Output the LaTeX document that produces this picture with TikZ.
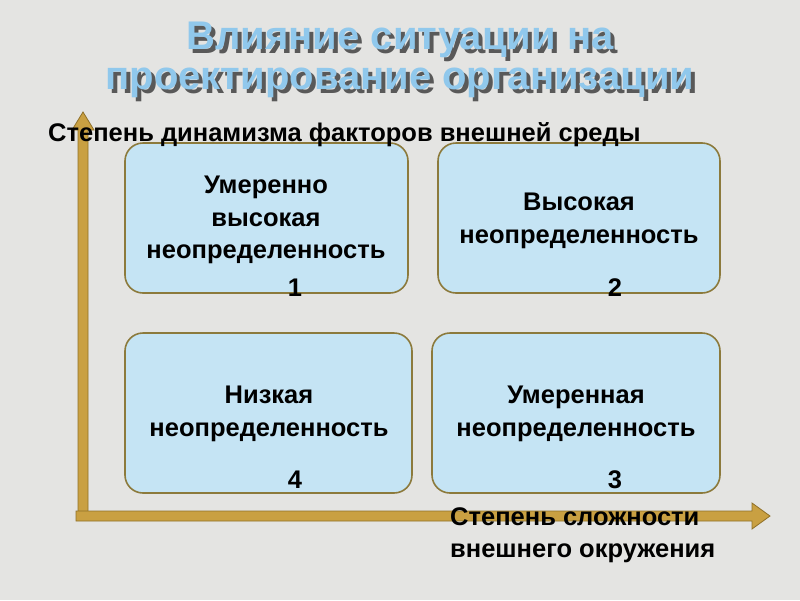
\documentclass[tikz,border=0pt]{standalone}
\usepackage{fontspec}
\setmainfont{Liberation Sans}
\begin{document}
\begin{tikzpicture}[x=1pt,y=-1pt,
  box/.style={draw=olivebd,line width=1.6pt,fill=boxfill,rounded corners=18pt},
  txt/.style={font=\bfseries\fontsize{25.5}{32.5}\selectfont,align=center,text=black,inner sep=0pt},
  ttl/.style={font=\bfseries\fontsize{40}{40}\selectfont,inner sep=0pt}]
\definecolor{bg}{HTML}{E4E4E2}
\definecolor{boxfill}{HTML}{C5E4F4}
\definecolor{olivebd}{HTML}{8C7A3C}
\definecolor{gold}{HTML}{C9A042}
\definecolor{golddk}{HTML}{8F7028}
\definecolor{ttlblue}{HTML}{90C8EC}
\fill[bg] (0,0) rectangle (800,600);
\useasboundingbox (0,0) rectangle (800,600);
% title
\node[ttl,text=gray!70!black] (sh1) at (404,44) {Влияние ситуации на};
\node[ttl,text=ttlblue] (tt1) at (400,40) {Влияние ситуации на};
\node[ttl,text=gray!70!black] (sh2) at (404,87) {проектирование организации};
\node[ttl,text=ttlblue] (tt2) at (400,83) {проектирование организации};
% axes
\draw[golddk,fill=gold,line width=0.8pt] (78,520) -- (78,130) -- (72,130) -- (83,112) -- (94,130) -- (88,130) -- (88,520) -- cycle;
\draw[golddk,fill=gold,line width=0.8pt] (76,511) -- (752,511) -- (752,503) -- (770,516) -- (752,529) -- (752,521) -- (76,521) -- cycle;
% boxes
\node[box,minimum width=283pt,minimum height=150pt] (b1) at (266.5,218) {};
\node[box,minimum width=282pt,minimum height=150pt] (b2) at (579,218) {};
\node[box,minimum width=287pt,minimum height=160pt] (b4) at (268.5,413) {};
\node[box,minimum width=288pt,minimum height=160pt] (b3) at (576,413) {};
\node[txt] (t1) at (266,220) {Умеренно\\высокая\\неопределенность};
\node[txt] (t2) at (579,221) {Высокая\\неопределенность};
\node[txt] (t4) at (269,414) {Низкая\\неопределенность};
\node[txt] (t3) at (576,414) {Умеренная\\неопределенность};
\node[txt] (n1) at (295,288) {1};
\node[txt] (n2) at (615,288) {2};
\node[txt] (n4) at (295,480) {4};
\node[txt] (n3) at (615,480) {3};
\node[txt,anchor=west] (ya) at (48,135) {Степень динамизма факторов внешней среды};
\node[txt,anchor=west,align=left] (xa) at (450,535) {Степень сложности\\внешнего окружения};
\end{tikzpicture}
\end{document}
